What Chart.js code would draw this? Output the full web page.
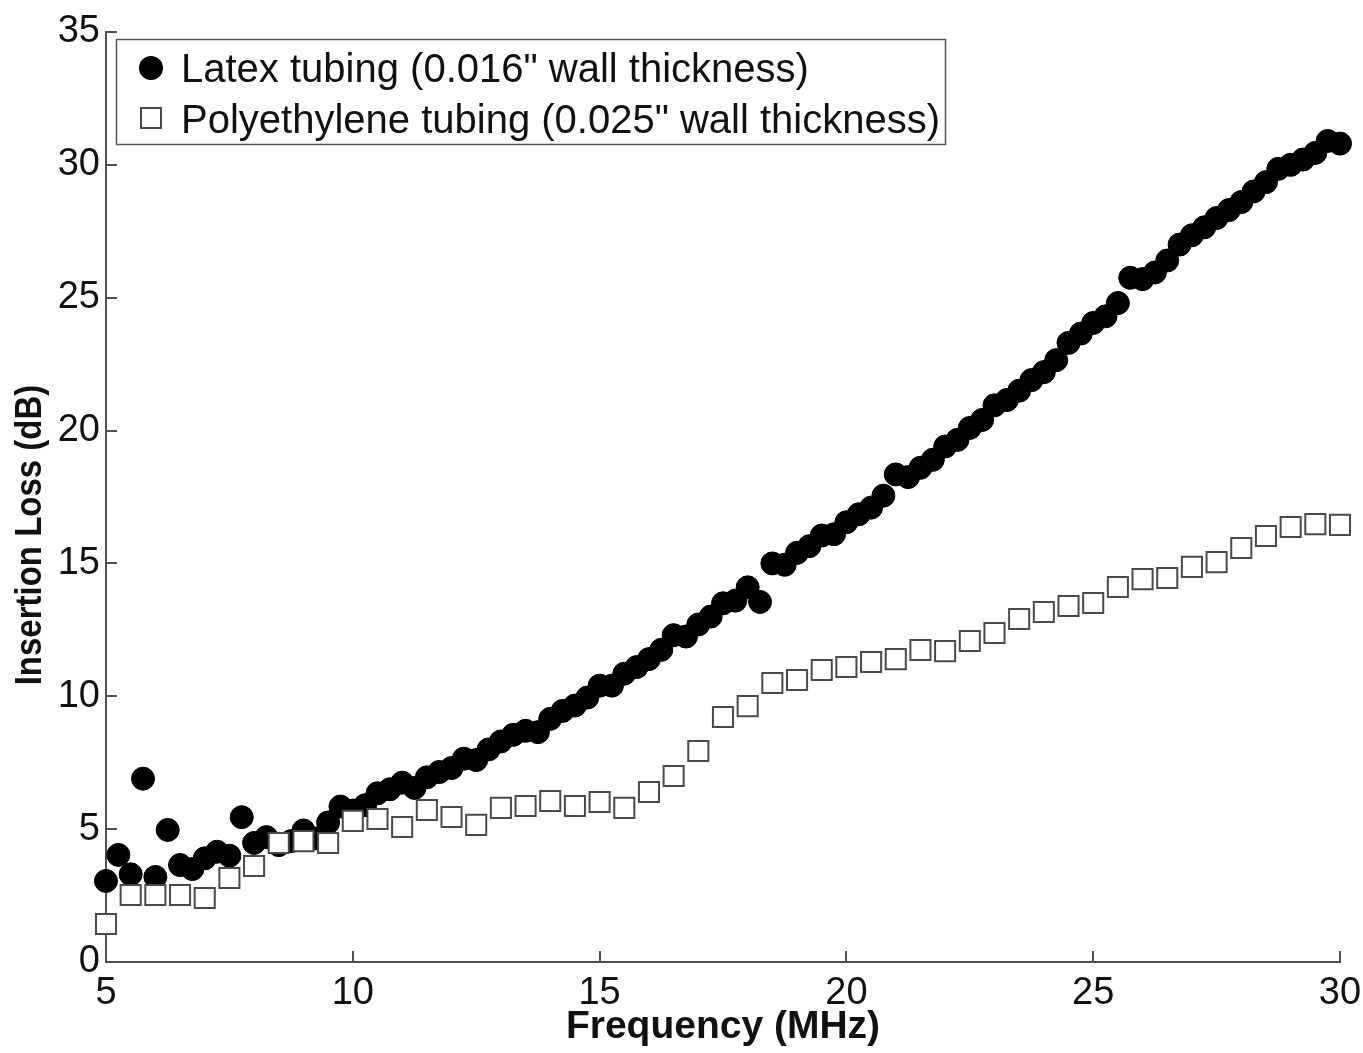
<!DOCTYPE html>
<html>
<head>
<meta charset="utf-8">
<script src="https://cdn.jsdelivr.net/npm/chart.js@4/dist/chart.umd.min.js"></script>
<style>
  html, body { margin: 0; padding: 0; background: #fff; }
  #wrap { width: 1363px; height: 1053px; }
</style>
</head>
<body>
<div id="wrap"><canvas id="lossChart" width="1363" height="1053"></canvas></div>
<script>
// latex tubing, sampled every 0.25 MHz
const latexFreq = [
  5.00, 5.25, 5.50, 5.75, 6.00, 6.25, 6.50, 6.75, 7.00, 7.25, 7.50, 7.75, 8.00, 8.25, 8.50, 8.75,
  9.00, 9.25, 9.50, 9.75, 10.00, 10.25, 10.50, 10.75, 11.00, 11.25, 11.50, 11.75, 12.00, 12.25, 12.50, 12.75,
  13.00, 13.25, 13.50, 13.75, 14.00, 14.25, 14.50, 14.75, 15.00, 15.25, 15.50, 15.75, 16.00, 16.25, 16.50, 16.75,
  17.00, 17.25, 17.50, 17.75, 18.00, 18.25, 18.50, 18.75, 19.00, 19.25, 19.50, 19.75, 20.00, 20.25, 20.50, 20.75,
  21.00, 21.25, 21.50, 21.75, 22.00, 22.25, 22.50, 22.75, 23.00, 23.25, 23.50, 23.75, 24.00, 24.25, 24.50, 24.75,
  25.00, 25.25, 25.50, 25.75, 26.00, 26.25, 26.50, 26.75, 27.00, 27.25, 27.50, 27.75, 28.00, 28.25, 28.50, 28.75,
  29.00, 29.25, 29.50, 29.75, 30.00
];
const latexLoss = [
  3.05, 4.03, 3.30, 6.90, 3.20, 4.97, 3.65, 3.50, 3.90, 4.15, 4.00, 5.45, 4.48, 4.70, 4.40, 4.55,
  4.95, 4.65, 5.25, 5.85, 5.70, 5.90, 6.35, 6.50, 6.75, 6.55, 6.95, 7.15, 7.30, 7.65, 7.60, 8.00,
  8.30, 8.55, 8.70, 8.65, 9.15, 9.45, 9.65, 9.95, 10.40, 10.40, 10.85, 11.10, 11.40, 11.75, 12.30, 12.25,
  12.70, 13.00, 13.50, 13.60, 14.10, 13.55, 15.00, 14.95, 15.40, 15.65, 16.05, 16.10, 16.55, 16.85, 17.10, 17.55,
  18.35, 18.25, 18.60, 18.90, 19.40, 19.65, 20.10, 20.40, 20.95, 21.15, 21.50, 21.90, 22.20, 22.65, 23.30, 23.65,
  24.05, 24.30, 24.80, 25.75, 25.70, 25.95, 26.40, 27.00, 27.35, 27.65, 28.00, 28.30, 28.60, 29.00, 29.35, 29.85,
  30.00, 30.20, 30.45, 30.90, 30.80
];

// polyethylene tubing, sampled every 0.5 MHz
const polyFreq = [
  5.0, 5.5, 6.0, 6.5, 7.0, 7.5, 8.0, 8.5, 9.0, 9.5, 10.0, 10.5, 11.0, 11.5, 12.0, 12.5, 13.0,
  13.5, 14.0, 14.5, 15.0, 15.5, 16.0, 16.5, 17.0, 17.5, 18.0, 18.5, 19.0, 19.5, 20.0, 20.5, 21.0,
  21.5, 22.0, 22.5, 23.0, 23.5, 24.0, 24.5, 25.0, 25.5, 26.0, 26.5, 27.0, 27.5, 28.0, 28.5, 29.0,
  29.5, 30.0
];
const polyLoss = [
  1.43, 2.52, 2.52, 2.52, 2.41, 3.16, 3.61, 4.48, 4.55, 4.48, 5.31, 5.38, 5.08, 5.72, 5.46, 5.16, 5.80,
  5.87, 6.06, 5.87, 6.02, 5.80, 6.40, 7.00, 7.94, 9.22, 9.63, 10.50, 10.61, 10.99, 11.10, 11.29, 11.40,
  11.74, 11.70, 12.08, 12.38, 12.91, 13.17, 13.40, 13.51, 14.11, 14.41, 14.45, 14.87, 15.05, 15.58, 16.03, 16.37,
  16.48, 16.45
];

const xTicks = [5, 10, 15, 20, 25, 30];
const yTicks = [0, 5, 10, 15, 20, 25, 30, 35];
const seriesNames = [
  'Latex tubing (0.016" wall thickness)',
  'Polyethylene tubing (0.025" wall thickness)'
];
const yTitle = "Insertion Loss (dB)";

const axisGrey = "#505050";
const tickFont = { family: "'Liberation Sans', Arial, sans-serif", size: 38 };
const titleFont = { family: "'Liberation Sans', Arial, sans-serif", size: 39, weight: "bold" };

const toPoints = (xs, ys) => xs.map((x, i) => ({ x: x, y: ys[i] }));

// boxed legend in the upper left + the y title (sits a bit below centre in the original)
const boxLegend = {
  id: "boxLegend",
  afterDatasetsDraw(chart) {
    const ctx = chart.ctx;
    ctx.save();
    ctx.fillStyle = "#fff";
    ctx.fillRect(116, 39, 829, 105);
    ctx.strokeStyle = "#555";
    ctx.lineWidth = 1.5;
    ctx.strokeRect(116.5, 39.5, 829, 105);

    // markers
    ctx.fillStyle = "#000";
    ctx.beginPath();
    ctx.arc(151, 68, 12, 0, Math.PI * 2);
    ctx.fill();
    ctx.fillStyle = "#fff";
    ctx.strokeStyle = "#4a4a4a";
    ctx.lineWidth = 2;
    ctx.fillRect(141, 108, 20, 20);
    ctx.strokeRect(141, 108, 20, 20);

    ctx.fillStyle = "#111";
    ctx.font = "40px 'Liberation Sans', Arial, sans-serif";
    ctx.textBaseline = "alphabetic";
    ctx.fillText(seriesNames[0], 181, 82);
    ctx.fillText(seriesNames[1], 181, 133);

    ctx.translate(31, 535);
    ctx.rotate(-Math.PI / 2);
    ctx.scale(1, 1.12); // original figure is slightly stretched sideways
    ctx.font = "bold 33px 'Liberation Sans', Arial, sans-serif";
    ctx.textAlign = "center";
    ctx.textBaseline = "middle";
    ctx.fillText(yTitle, 0, 0);
    ctx.restore();
  }
};

const ctx = document.getElementById("lossChart").getContext("2d");
new Chart(ctx, {
  type: "scatter",
  data: {
    datasets: [
      {
        label: seriesNames[0],
        data: toPoints(latexFreq, latexLoss),
        pointStyle: "circle",
        pointRadius: 11.5,
        pointBackgroundColor: "#000",
        pointBorderColor: "#000",
        pointBorderWidth: 1,
        showLine: false,
        clip: false,
        order: 2
      },
      {
        label: seriesNames[1],
        data: toPoints(polyFreq, polyLoss),
        pointStyle: "rect",
        pointRadius: 14.2,
        pointBackgroundColor: "#fff",
        pointBorderColor: "#4a4a4a",
        pointBorderWidth: 2,
        showLine: false,
        clip: false,
        order: 1
      }
    ]
  },
  options: {
    responsive: false,
    animation: false,
    devicePixelRatio: 1,
    layout: { padding: { top: 32, right: 23, bottom: 0, left: 0 } },
    plugins: {
      legend: { display: false },
      tooltip: { enabled: false }
    },
    scales: {
      x: {
        type: "linear",
        min: 5,
        max: 30,
        afterBuildTicks: scale => { scale.ticks = xTicks.map(v => ({ value: v })); },
        afterFit: scale => {
          scale.height = 91;
          scale.paddingLeft = 0;
          scale.paddingRight = 0;
        },
        border: { display: true, color: axisGrey, width: 2 },
        grid: { drawOnChartArea: false, drawTicks: true, tickLength: -11, color: axisGrey, lineWidth: 2 },
        ticks: { color: "#111", font: tickFont, padding: 20, maxRotation: 0 },
        title: { display: true, text: "Frequency (MHz)", color: "#111", font: titleFont, padding: { top: 0, bottom: 2 } }
      },
      y: {
        type: "linear",
        min: 0,
        max: 35,
        afterBuildTicks: scale => { scale.ticks = yTicks.map(v => ({ value: v })); },
        afterFit: scale => {
          scale.width = 106;
          scale.paddingTop = 0;
          scale.paddingBottom = 0;
        },
        border: { display: true, color: axisGrey, width: 2 },
        grid: { drawOnChartArea: false, drawTicks: true, tickLength: -11, color: axisGrey, lineWidth: 2 },
        ticks: { color: "#111", font: tickFont, padding: 17 }
      }
    }
  },
  plugins: [boxLegend]
});
</script>
</body>
</html>
